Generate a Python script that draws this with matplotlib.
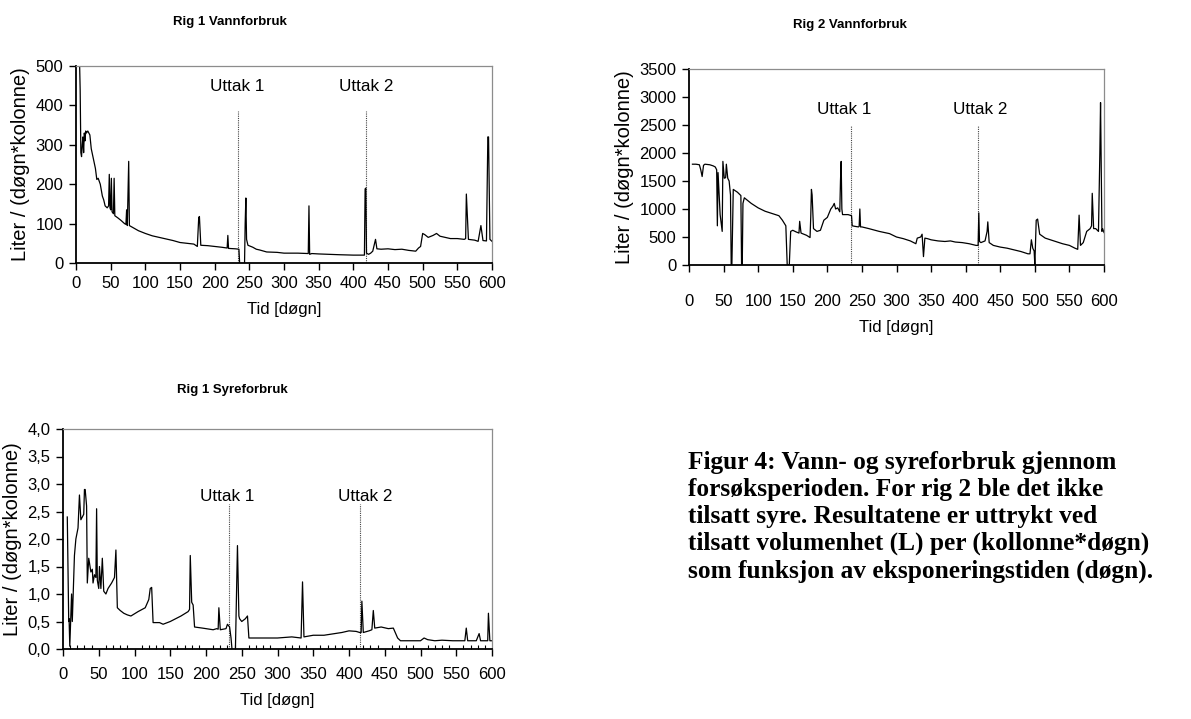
import matplotlib
matplotlib.use("Agg")
import matplotlib.pyplot as plt
from matplotlib.ticker import MultipleLocator, FuncFormatter

# ------------------------------------------------------------
# Data: Rig 1 water use, (day, L per day*column)
# ------------------------------------------------------------

rig1_vann = [
    (5, 520), (6, 440), (7, 280), (8, 270), (9, 300), (10, 320), (11, 280),
    (12, 330), (13, 310), (14, 335), (15, 330), (17, 335), (20, 325),
    (22, 290), (25, 265), (28, 240), (30, 212), (32, 215), (35, 200),
    (38, 170), (40, 160), (42, 145), (45, 140), (47, 145), (48, 225),
    (49, 140), (50, 135), (51, 215), (52, 130), (54, 125), (55, 215),
    (56, 120), (60, 115), (65, 108), (70, 100), (72, 98), (73, 135),
    (74, 95), (76, 258), (77, 95), (80, 92), (90, 82), (100, 75), (110, 69),
    (125, 63), (140, 57), (150, 52), (160, 50), (170, 48), (175, 42),
    (177, 115), (178, 118), (180, 45), (190, 44), (200, 42), (210, 40),
    (218, 38), (219, 70), (220, 37), (230, 36), (235, 35), (236, 0),
    (238, -10), (243, -10), (244, 100), (245, 165), (246, 60), (248, 45),
    (255, 40), (260, 35), (265, 33), (275, 28), (290, 27), (300, 25),
    (320, 25), (335, 24), (336, 145), (337, 22), (340, 24), (350, 23),
    (365, 22), (380, 21), (400, 20), (410, 20), (416, 20), (417, 188),
    (418, 190), (419, 25), (422, 22), (425, 25), (428, 30), (432, 60),
    (434, 36), (440, 35), (450, 36), (460, 34), (470, 35), (480, 32),
    (490, 30), (494, 38), (497, 42), (500, 75), (503, 72), (508, 65),
    (515, 70), (520, 75), (525, 68), (530, 66), (540, 62), (550, 62),
    (560, 60), (562, 62), (563, 175), (566, 60), (575, 58), (580, 55),
    (584, 95), (587, 57), (592, 56), (594, 320), (595, 320), (597, 60),
    (600, 55),
]

# ------------------------------------------------------------
# Data: Rig 2 water use, (day, L per day*column)
# ------------------------------------------------------------

rig2_vann = [
    (5, 1800), (10, 1800), (15, 1790), (17, 1700), (19, 1580), (21, 1780),
    (23, 1800), (30, 1790), (35, 1770), (38, 1750), (40, 1700), (41, 700),
    (42, 1650), (43, 1400), (45, 900), (48, 600), (49, 1850), (51, 1550),
    (53, 1560), (54, 1800), (56, 1550), (58, 1500), (60, 1250), (61, 0),
    (62, 0), (64, 1350), (70, 1300), (74, 1250), (75, 1240), (76, 0),
    (77, 0), (78, 1100), (80, 1200), (85, 1150), (90, 1100), (100, 1020),
    (110, 960), (120, 920), (130, 880), (135, 800), (140, 700), (142, 0),
    (145, 0), (147, 600), (150, 620), (155, 590), (159, 570), (160, 780),
    (162, 570), (170, 530), (175, 490), (176, 850), (177, 1350),
    (178, 1250), (180, 650), (185, 600), (190, 620), (195, 800), (200, 850),
    (205, 1000), (208, 1050), (210, 1100), (212, 1000), (215, 1020),
    (218, 950), (219, 1500), (220, 1850), (221, 1000), (222, 900),
    (230, 900), (235, 880), (236, 700), (240, 690), (245, 680), (246, 690),
    (247, 1000), (248, 680), (250, 680), (260, 650), (275, 600), (290, 560),
    (300, 500), (310, 470), (320, 430), (328, 380), (330, 480), (335, 500),
    (337, 550), (339, 150), (341, 480), (345, 470), (350, 450), (360, 430),
    (370, 420), (378, 430), (385, 410), (395, 400), (405, 380), (415, 350),
    (418, 350), (419, 930), (420, 420), (422, 400), (428, 430), (431, 600),
    (432, 770), (434, 400), (440, 350), (450, 320), (460, 300), (470, 270),
    (480, 240), (490, 200), (493, 200), (495, 450), (497, 300), (499, 250),
    (500, 0), (502, 800), (504, 820), (507, 550), (515, 480), (525, 440),
    (540, 380), (550, 350), (558, 300), (562, 280), (564, 890), (566, 350),
    (570, 400), (575, 600), (580, 650), (582, 700), (583, 1280), (585, 650),
    (588, 650), (592, 600), (594, 2000), (595, 2900), (597, 600),
    (598, 650), (600, 580),
]

# ------------------------------------------------------------
# Data: Rig 1 acid use, (day, L per day*column)
# ------------------------------------------------------------

rig1_syre = [
    (6, 2.4), (8, 0.5), (8.5, 0.55), (9.5, 0.05), (12, 1.0), (13, 0.5),
    (16, 1.7), (18, 2.0), (21, 2.2), (23, 2.8), (25, 2.35), (27, 2.4),
    (29, 2.45), (30, 2.9), (31, 2.9), (33, 2.6), (34, 1.2), (36, 1.65),
    (39, 1.4), (41, 1.45), (42, 1.2), (44, 1.35), (46, 1.3), (47, 2.55),
    (48, 1.25), (50, 1.1), (51, 1.5), (53, 1.1), (55, 1.65), (57, 1.05),
    (60, 1.0), (63, 1.1), (68, 1.2), (72, 1.3), (74, 1.8), (76, 0.75),
    (80, 0.7), (85, 0.65), (90, 0.62), (95, 0.6), (105, 0.68), (115, 0.75),
    (120, 0.9), (122, 1.1), (124, 1.12), (126, 0.48), (135, 0.48),
    (140, 0.45), (150, 0.5), (165, 0.6), (175, 0.68), (177, 0.72),
    (178, 1.7), (180, 0.85), (182, 0.8), (184, 0.4), (195, 0.38),
    (210, 0.35), (215, 0.37), (217, 0.36), (218, 0.75), (220, 0.35),
    (228, 0.37), (230, 0.45), (233, 0.4), (235, 0.2), (237, -0.1),
    (241, -0.1), (244, 1.88), (246, 0.6), (247, 0.55), (250, 0.5),
    (255, 0.55), (258, 0.6), (260, 0.2), (265, 0.2), (280, 0.2), (300, 0.2),
    (320, 0.22), (333, 0.2), (335, 1.22), (337, 0.22), (350, 0.25),
    (365, 0.25), (380, 0.28), (390, 0.3), (400, 0.33), (410, 0.32),
    (415, 0.3), (417, 0.3), (418, 0.87), (420, 0.3), (428, 0.33),
    (432, 0.35), (434, 0.7), (436, 0.38), (445, 0.4), (455, 0.37),
    (462, 0.38), (468, 0.2), (472, 0.15), (485, 0.15), (500, 0.15),
    (505, 0.2), (510, 0.17), (520, 0.15), (530, 0.16), (545, 0.15),
    (555, 0.15), (562, 0.15), (564, 0.38), (566, 0.15), (578, 0.15),
    (582, 0.28), (584, 0.15), (592, 0.15), (594, 0.15), (595, 0.65),
    (597, 0.15), (600, 0.15),
]

uttak_rig1 = [233.6, 418]
uttak_rig2 = [234.4, 417.7]
uttak_syre = [232.8, 415.7]

FIG_W, FIG_H = 1191, 719

plt.rcParams["font.family"] = ["Liberation Sans", "DejaVu Sans"]


def px_axes(fig, left, right, top, bottom):
    return fig.add_axes([
        left / FIG_W,
        1 - bottom / FIG_H,
        (right - left) / FIG_W,
        (bottom - top) / FIG_H,
    ])


def style_axes(ax, ymax, ystep, xpad, comma=False, minor=False):
    ax.set_xlim(0, 600)
    ax.set_ylim(0, ymax)
    ax.xaxis.set_major_locator(MultipleLocator(50))
    ax.yaxis.set_major_locator(MultipleLocator(ystep))
    if comma:
        ax.yaxis.set_major_formatter(
            FuncFormatter(lambda v, p: f"{v:.1f}".replace(".", ","))
        )
    ax.tick_params(axis="both", direction="out", length=5, width=1,
                   labelsize=12, colors="black", pad=4)
    ax.tick_params(axis="x", pad=xpad)
    if minor:
        ax.xaxis.set_minor_locator(MultipleLocator(10))
        ax.tick_params(axis="x", which="minor", direction="in",
                       length=3, width=0.8)
    for side in ("top", "right"):
        ax.spines[side].set_color("#8c8c8c")
        ax.spines[side].set_linewidth(0.9)
    for side in ("left", "bottom"):
        ax.spines[side].set_color("black")
        ax.spines[side].set_linewidth(1.3)
    ax.set_xlabel("Tid [døgn]", fontsize=12, labelpad=8)
    ax.set_ylabel("Liter / (døgn*kolonne)", fontsize=14.5, labelpad=4)


def draw_series(ax, pairs):
    days = [p[0] for p in pairs]
    values = [p[1] for p in pairs]
    ax.plot(days, values, color="black", linewidth=0.9, zorder=2)


def draw_uttak(ax, days, top, label_y, label_x):
    for d, lx, name in zip(days, label_x, ["Uttak 1", "Uttak 2"]):
        ax.plot([d, d], [0, top], linestyle=(0, (1, 1)), color="#444444",
                linewidth=0.8, zorder=1)
        ax.text(lx, label_y, name, ha="center", va="center", fontsize=12.3)


fig = plt.figure(figsize=(FIG_W / 100, FIG_H / 100), dpi=100)

# ------------------------------------------------------------
# Rig 1 Vannforbruk
# ------------------------------------------------------------

ax1 = px_axes(fig, 76, 492, 66, 263)
draw_series(ax1, rig1_vann)
style_axes(ax1, 500, 100, xpad=4)
draw_uttak(ax1, uttak_rig1, 385, 447, [232, 418])
fig.text(230 / FIG_W, 1 - 22 / FIG_H, "Rig 1 Vannforbruk", ha="center",
         va="center", fontsize=9.5, fontweight="bold")

# ------------------------------------------------------------
# Rig 2 Vannforbruk
# ------------------------------------------------------------

ax2 = px_axes(fig, 689, 1104, 69, 265)
draw_series(ax2, rig2_vann)
style_axes(ax2, 3500, 500, xpad=16)
draw_uttak(ax2, uttak_rig2, 2500, 2770, [224, 421.6])
fig.text(850 / FIG_W, 1 - 25 / FIG_H, "Rig 2 Vannforbruk", ha="center",
         va="center", fontsize=9.5, fontweight="bold")

# ------------------------------------------------------------
# Rig 1 Syreforbruk
# ------------------------------------------------------------

ax3 = px_axes(fig, 63, 492, 429, 649)
draw_series(ax3, rig1_syre)
style_axes(ax3, 4.0, 0.5, xpad=8, comma=True, minor=True)
draw_uttak(ax3, uttak_syre, 2.63, 2.77, [230, 422])
fig.text(232 / FIG_W, 1 - 390 / FIG_H, "Rig 1 Syreforbruk", ha="center",
         va="center", fontsize=9.5, fontweight="bold")

# ------------------------------------------------------------
# Figure caption
# ------------------------------------------------------------

caption = (
    "Figur 4: Vann- og syreforbruk gjennom\n"
    "forsøksperioden. For rig 2 ble det ikke\n"
    "tilsatt syre. Resultatene er uttrykt ved\n"
    "tilsatt volumenhet (L) per (kollonne*døgn)\n"
    "som funksjon av eksponeringstiden (døgn)."
)
fig.text(688 / FIG_W, 1 - 451 / FIG_H, caption, ha="left", va="top",
         fontsize=18.3, fontweight="bold", linespacing=1.22,
         family=["Liberation Serif", "DejaVu Serif"])

fig.savefig("out.png", dpi=100)
